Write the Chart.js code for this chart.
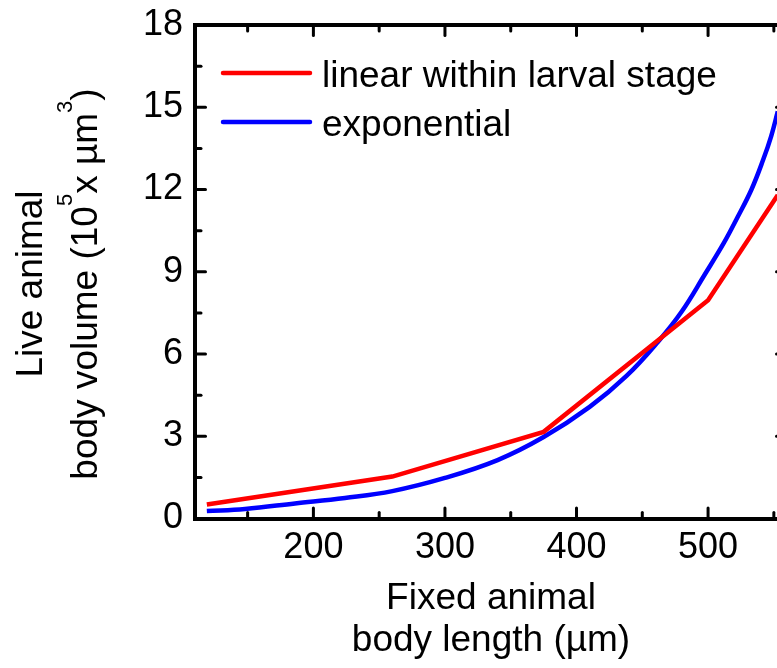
<!DOCTYPE html>
<html>
<head>
<meta charset="utf-8">
<script src="https://cdn.jsdelivr.net/npm/chart.js@4.4.1/dist/chart.umd.min.js"></script>
<style>
  html, body { margin: 0; padding: 0; background: #fff; overflow: hidden; }
  #wrap { position: absolute; left: 0; top: 0; width: 800px; height: 668px; }
</style>
</head>
<body>
<div id="wrap"><canvas id="chart" width="800" height="668"></canvas></div>
<script>
// --- data: fixed body length (µm) vs live body volume (10^5 µm^3) ---
const LINEAR_X = [119, 260, 375, 500, 553];
const LINEAR_Y = [0.51, 1.53, 3.16, 7.96, 11.8];

const EXP_X = [119, 148, 186, 224, 260, 300, 340, 375, 410, 438, 462, 480, 497.5, 512, 522, 533, 542, 548, 553];
const EXP_Y = [0.27, 0.35, 0.55, 0.75, 1.0, 1.48, 2.13, 2.97, 4.07, 5.2, 6.45, 7.55, 8.9, 10.05, 10.95, 12.0, 13.1, 13.95, 14.85];

const SERIES_LABELS = ['linear within larval stage', 'exponential'];
const SERIES_COLORS = ['#ff0000', '#0000ff'];

const X_TICKS = [200, 300, 400, 500];
const X_MINOR = [150, 250, 350, 450, 550];
const Y_TICKS = [0, 3, 6, 9, 12, 15, 18];
const Y_MINOR = [1.5, 4.5, 7.5, 10.5, 13.5, 16.5];

const FONT = "'Liberation Sans', Arial, sans-serif";
Chart.defaults.font.family = FONT;
Chart.defaults.color = '#000';

const toPoints = (xs, ys) => xs.map((x, i) => ({ x, y: ys[i] }));
const setTicks = list => scale => { scale.ticks = list.map(v => ({ value: v })); };
// fixed box size, and no extra room reserved for overhanging labels
const fixSize = size => scale => {
  if (scale.isHorizontal()) scale.height = size; else scale.width = size;
  scale.paddingTop = scale.paddingBottom = scale.paddingLeft = scale.paddingRight = 0;
};

// plain frame side: border only, no labels
function frameScale(position, min, max) {
  return {
    type: 'linear', position, min, max,
    ticks: { display: false },
    grid: { drawOnChartArea: false, drawTicks: false },
    border: { color: '#000', width: 4 },
    afterFit: fixSize(0)
  };
}

// inward tick marks on all four sides
const innerTicks = {
  id: 'innerTicks',
  beforeDatasetsDraw(chart) {
    const { ctx, chartArea: a, scales } = chart;
    ctx.save();
    ctx.strokeStyle = '#000';
    ctx.lineWidth = 3;
    ctx.lineCap = 'round';
    const mark = (x1, y1, x2, y2) => {
      ctx.beginPath(); ctx.moveTo(x1, y1); ctx.lineTo(x2, y2); ctx.stroke();
    };
    [[X_TICKS, 10.5], [X_MINOR, 6]].forEach(([vals, len]) => vals.forEach(v => {
      const px = scales.x.getPixelForValue(v);
      mark(px, a.bottom, px, a.bottom - len);
      mark(px, a.top, px, a.top + len);
    }));
    [[Y_TICKS, 10.5], [Y_MINOR, 6]].forEach(([vals, len]) => vals.forEach(v => {
      const py = scales.y.getPixelForValue(v);
      mark(a.left, py, a.left + len, py);
      mark(a.right, py, a.right - len, py);
    }));
    ctx.restore();
  }
};

// legend inside the plot, top left
const insideLegend = {
  id: 'insideLegend',
  afterDatasetsDraw(chart) {
    const { ctx } = chart;
    const rows = [73, 122];
    ctx.save();
    ctx.font = '37px ' + FONT;
    ctx.textBaseline = 'alphabetic';
    ctx.textAlign = 'left';
    chart.data.datasets.forEach((ds, i) => {
      const y = rows[i];
      ctx.strokeStyle = ds.borderColor;
      ctx.lineWidth = 4.5;
      ctx.lineCap = 'round';
      ctx.beginPath(); ctx.moveTo(223, y); ctx.lineTo(310, y); ctx.stroke();
      ctx.fillStyle = '#000';
      ctx.fillText(ds.label, 322, y + 13.5);
    });
    ctx.restore();
  }
};

// y axis title, two lines with superscripts
const Y_TITLE = [
  [{ t: 'Live animal' }],
  [{ t: 'body volume (10' }, { t: '5', sup: true }, { t: 'x µm' }, { t: '3', sup: true }, { t: ')' }]
];
const yTitle = {
  id: 'yTitle',
  afterDraw(chart) {
    const { ctx } = chart;
    const baselines = [42, 97];
    const mid = 284;
    const main = '37px ' + FONT, small = '22px ' + FONT;
    ctx.save();
    ctx.fillStyle = '#000';
    ctx.textBaseline = 'alphabetic';
    ctx.textAlign = 'left';
    Y_TITLE.forEach((parts, i) => {
      let total = 0;
      parts.forEach(p => { ctx.font = p.sup ? small : main; total += ctx.measureText(p.t).width; });
      ctx.save();
      ctx.translate(baselines[i], mid);
      ctx.rotate(-Math.PI / 2);
      let x = -total / 2;
      parts.forEach(p => {
        ctx.font = p.sup ? small : main;
        ctx.fillText(p.t, x, p.sup ? -25 : 0);
        x += ctx.measureText(p.t).width;
      });
      ctx.restore();
    });
    ctx.restore();
  }
};

new Chart(document.getElementById('chart'), {
  type: 'line',
  data: {
    datasets: [
      {
        label: SERIES_LABELS[0],
        data: toPoints(LINEAR_X, LINEAR_Y),
        borderColor: SERIES_COLORS[0],
        borderWidth: 4.5,
        pointRadius: 0,
        tension: 0
      },
      {
        label: SERIES_LABELS[1],
        data: toPoints(EXP_X, EXP_Y),
        borderColor: SERIES_COLORS[1],
        borderWidth: 4.5,
        pointRadius: 0,
        tension: 0.4
      }
    ]
  },
  options: {
    responsive: false,
    animation: false,
    devicePixelRatio: 1,
    layout: { padding: { left: 0, top: 25, right: 13, bottom: 0 } },
    plugins: { legend: { display: false }, tooltip: { enabled: false } },
    scales: {
      x: {
        type: 'linear', position: 'bottom', min: 110, max: 560,
        afterBuildTicks: setTicks(X_TICKS),
        ticks: { font: { size: 36 }, padding: 8, color: '#000' },
        grid: { drawOnChartArea: false, drawTicks: false },
        border: { color: '#000', width: 4 },
        title: {
          display: true,
          text: ['Fixed animal', 'body length (µm)'],
          font: { size: 37, lineHeight: 1.15 },
          padding: { top: 0, bottom: 5.5 },
          color: '#000'
        },
        afterFit: fixSize(149.5)
      },
      y: {
        type: 'linear', position: 'left', min: 0, max: 18,
        afterBuildTicks: setTicks(Y_TICKS),
        ticks: { font: { size: 36 }, padding: 12, color: '#000' },
        grid: { drawOnChartArea: false, drawTicks: false },
        border: { color: '#000', width: 4 },
        afterFit: fixSize(195)
      },
      x2: frameScale('top', 110, 560),
      y2: frameScale('right', 0, 18)
    }
  },
  plugins: [innerTicks, insideLegend, yTitle]
});
</script>
</body>
</html>
